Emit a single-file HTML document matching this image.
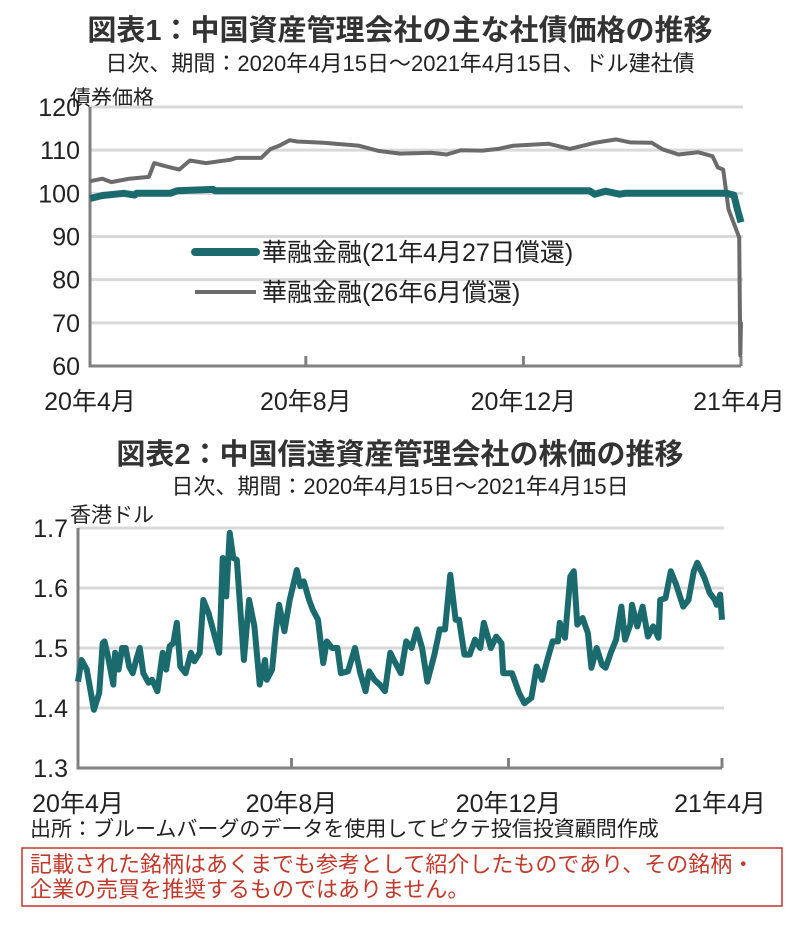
<!DOCTYPE html>
<html><head><meta charset="utf-8">
<style>
body{margin:0;background:#fff;width:801px;height:929px;overflow:hidden;font-family:"Liberation Sans Narrow","Liberation Sans","Noto Sans CJK JP",sans-serif;color:#222}
svg text{font-family:"Liberation Sans Narrow","Liberation Sans","Noto Sans CJK JP",sans-serif}
</style></head><body>
<svg id="s" width="801" height="929">
<text x="400" y="40" text-anchor="middle" font-size="29" font-weight="bold" fill="#333">図表1：中国資産管理会社の主な社債価格の推移</text>
<text x="400" y="71" text-anchor="middle" font-size="22" fill="#222">日次、期間：2020年4月15日～2021年4月15日、ドル建社債</text>
<text x="70" y="105" font-size="21" fill="#222">債券価格</text>
<text x="400" y="464" text-anchor="middle" font-size="29" font-weight="bold" fill="#333">図表2：中国信達資産管理会社の株価の推移</text>
<text x="400" y="494" text-anchor="middle" font-size="22" fill="#222">日次、期間：2020年4月15日～2021年4月15日</text>
<text x="70" y="522" font-size="21" fill="#222">香港ドル</text>
<text x="30" y="836" font-size="21" fill="#222">出所：ブルームバーグのデータを使用してピクテ投信投資顧問作成</text>
<rect x="22" y="848" width="760" height="58" fill="none" stroke="#c0392b" stroke-width="1.5"/>
<text x="30" y="872" font-size="22" fill="#c0392b">記載された銘柄はあくまでも参考として紹介したものであり、その銘柄・</text>
<text x="30" y="897" font-size="22" fill="#c0392b">企業の売買を推奨するものではありません。</text>
</svg>
<script>
const NS="http://www.w3.org/2000/svg";
const svg=document.getElementById('s');
function mk(t,a,p){const e=document.createElementNS(NS,t);for(const k in a)e.setAttribute(k,a[k]);(p||svg).appendChild(e);return e;}

// Chart 1 data
const c1Ticks=[60,70,80,90,100,110,120];
const c1XLabels=["20年4月","20年8月","20年12月","21年4月"];
const c1XDays=[0,121,243,365];
const tealDays=[0,7,19,25,26,45,49,69,70,280,283,289,297,300,352,357,361,363,365];
const tealVals=[98.8,99.5,100,99.6,100,100,100.6,100.9,100.6,100.6,99.8,100.5,99.8,100,100,100,99.6,96.3,93.3];
const grayDays=[0,7,12,22,33,36,42,50,56,65,79,82,96,101,106,112,116,131,151,162,174,191,200,208,220,229,237,257,269,283,295,303,315,321,330,341,349,352,355,358,364,364.6,365];
const grayVals=[102.8,103.4,102.6,103.4,103.8,107,106.3,105.5,107.6,107,107.8,108.2,108.2,110.2,111,112.3,112,111.7,111,109.8,109.2,109.4,109,110,109.9,110.3,111,111.5,110.3,111.7,112.5,111.8,111.7,110.2,109,109.5,108.6,106,105.5,96.3,89.8,62.5,70.2];

// Chart 2 data
const c2Ticks=[1.3,1.4,1.5,1.6,1.7];
const c2XLabels=["20年4月","20年8月","20年12月","21年4月"];
const c2XDays=[0,121,244,365];
const stockDays=[0,2,5,7,9,12,14,15,17,20,21,23,25,27,29,31,33,35,37,40,42,45,48,50,52,54,56,58,61,64,66,69,71,74,77,80,81,82,84,86,88,90,94,97,100,103,106,107,110,112,114,117,120,124,126,128,131,133,136,139,141,144,147,149,153,157,160,163,165,168,171,174,177,179,183,186,189,192,195,198,202,205,208,211,214,216,219,222,225,228,230,234,237,240,241,246,250,253,257,260,263,266,269,272,273,276,279,281,283,286,289,291,294,297,299,302,305,308,310,313,314,317,320,323,326,329,330,333,336,339,343,346,349,351,355,358,361,362,364,365];
const stockVals=[1.444,1.48,1.464,1.43,1.397,1.425,1.508,1.511,1.486,1.439,1.492,1.464,1.5,1.5,1.469,1.458,1.48,1.5,1.458,1.442,1.447,1.428,1.492,1.464,1.503,1.508,1.542,1.469,1.458,1.492,1.478,1.492,1.58,1.558,1.525,1.492,1.564,1.65,1.586,1.692,1.65,1.647,1.48,1.58,1.536,1.439,1.48,1.447,1.464,1.525,1.572,1.528,1.58,1.63,1.603,1.611,1.58,1.564,1.547,1.475,1.511,1.5,1.5,1.458,1.461,1.5,1.458,1.428,1.461,1.447,1.439,1.428,1.492,1.48,1.458,1.511,1.5,1.531,1.5,1.444,1.489,1.531,1.531,1.622,1.547,1.547,1.489,1.489,1.514,1.5,1.542,1.5,1.519,1.508,1.458,1.458,1.425,1.408,1.417,1.469,1.447,1.48,1.511,1.511,1.542,1.517,1.619,1.628,1.539,1.55,1.525,1.467,1.5,1.472,1.467,1.492,1.514,1.569,1.514,1.539,1.572,1.536,1.569,1.519,1.536,1.517,1.58,1.583,1.628,1.606,1.569,1.58,1.628,1.642,1.617,1.592,1.58,1.572,1.589,1.547];

function chart(o){
  const x=d=>o.x0+(d/365)*(o.x1-o.x0);
  const y=v=>o.yB+(v-o.vMin)/(o.vMax-o.vMin)*(o.yT-o.yB);
  o.ticks.forEach(t=>{
    if(t!==o.vMin){
      const g=mk('line',{x1:o.x0,x2:o.x1+2,y1:y(t),y2:y(t),stroke:'#d9d9d9','stroke-width':3});
      
      
    }
    const tl=mk('text',{x:o.x0-10,y:y(t)+9,'text-anchor':'end','font-size':25,fill:'#222'});
    tl.textContent=String(t);
    
    
  });
  o.xDays.forEach((d,i)=>{
    const tk=mk('line',{x1:x(d),x2:x(d),y1:o.yB,y2:o.yB-10,stroke:'#808080','stroke-width':3});
    
    
    const tl=mk('text',{x:x(d)+(i==3?-2:0),y:o.yB+o.lblDy,'text-anchor':'middle','font-size':25,fill:'#222'});
    tl.textContent=o.xLabels[i];
    
    
  });
  const ax=mk('path',{d:`M${o.x0},${o.yT}V${o.yB}H${o.x1}`,fill:'none',stroke:'#808080','stroke-width':3});
  
  
  o.series.forEach(s=>{
    const d=s.days.map((dd,i)=>(i?'L':'M')+x(dd).toFixed(1)+','+y(s.vals[i]).toFixed(1)).join('');
    const pth=mk('path',{d:d,fill:'none',stroke:s.color,'stroke-width':s.w,'stroke-linejoin':'round'});
    
    
  });
}
chart({p:'chart1',x0:90,x1:741,yT:107,yB:366,vMin:60,vMax:120,ticks:c1Ticks,xDays:c1XDays,xLabels:c1XLabels,lblDy:44,
  series:[{days:grayDays,vals:grayVals,color:'#6b6b6b',w:4,name:'series-26-jun-bond'},{days:tealDays,vals:tealVals,color:'#1b6b6e',w:7,name:'series-21-apr-bond'}]});
chart({p:'chart2',x0:78,x1:722,yT:528,yB:768,vMin:1.3,vMax:1.7,ticks:c2Ticks,xDays:c2XDays,xLabels:c2XLabels,lblDy:44,
  series:[{days:stockDays,vals:stockVals,color:'#1b6b6e',w:6,name:'series-stock-price'}]});

// legend
const l1=mk('line',{x1:195,x2:256,y1:252,y2:252,stroke:'#1b6b6e','stroke-width':8,'stroke-linecap':'round'});


const t1=mk('text',{x:262,y:261,'font-size':25,fill:'#222'});t1.textContent='華融金融(21年4月27日償還)';


const l2=mk('line',{x1:195,x2:256,y1:292,y2:292,stroke:'#6b6b6b','stroke-width':4});


const t2=mk('text',{x:262,y:301,'font-size':25,fill:'#222'});t2.textContent='華融金融(26年6月償還)';


</script>
</body></html>
